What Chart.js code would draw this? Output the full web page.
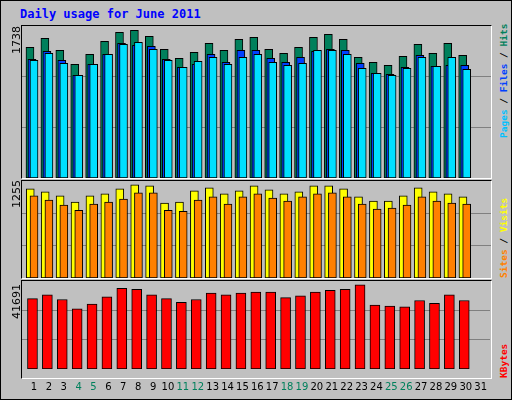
<!DOCTYPE html>
<html><head><meta charset="utf-8">
<script src="https://cdn.jsdelivr.net/npm/chart.js@4/dist/chart.umd.min.js"></script>
<style>
body{margin:0;background:#fff}
#wrap{position:relative;width:510px;height:398px;border:1px solid #000;background:#c0c0c0;overflow:hidden}
.pan{position:absolute;box-sizing:border-box;border-top:1px solid #000;border-left:1px solid #000;border-right:1px solid #fff;border-bottom:1px solid #fff}
.cv{position:absolute}
.t{position:absolute;font-family:"DejaVu Sans Mono",monospace;font-size:12px;white-space:nowrap}
.rot{transform-origin:0 0;transform:rotate(-90deg)}
.sm{font-size:9.5px;font-weight:bold}
.num{font-family:"DejaVu Sans";font-size:11px}
</style></head><body>
<div id="wrap">
<div class="t" style="left:19px;top:6px;color:#0000ff;font-weight:bold">Daily usage for June 2011</div>
<div class="pan" style="left:20px;top:24px;width:471px;height:154px"></div>
<div class="pan" style="left:20px;top:179px;width:471px;height:99px"></div>
<div class="pan" style="left:20px;top:279px;width:471px;height:99px"></div>
<canvas id="c1" class="cv" style="left:21px;top:25px" width="469" height="152"></canvas>
<canvas id="c2" class="cv" style="left:21px;top:180px" width="469" height="97"></canvas>
<canvas id="c3" class="cv" style="left:21px;top:280px" width="469" height="116"></canvas>
<div class="t rot num" style="left:9px;top:53px;color:#000">1738</div>
<div class="t rot num" style="left:9px;top:207px;color:#000">1255</div>
<div class="t rot num" style="left:9px;top:318px;color:#000">41691</div>
<div class="t rot sm" style="left:497px;top:137px"><span style="color:#00c0ff">Pages</span><span style="color:#000"> / </span><span style="color:#0040ff">Files</span><span style="color:#000"> / </span><span style="color:#00805c">Hits</span></div>
<div class="t rot sm" style="left:497px;top:277px"><span style="color:#ff8000">Sites</span><span style="color:#000"> / </span><span style="color:#ffff00">Visits</span></div>
<div class="t rot sm" style="left:497px;top:377px;color:#ff0000">KBytes</div>
</div>
<script>
let days=[];for(let d=1;d<=31;d++)days.push(d)
let weekends=[4,5,11,12,18,19,25,26]

let hits=[1524,1629,1489,1326,1442,1594,1699,1722,1652,1501,1396,1466,1571,1489,1617,1641,1501,1454,1524,1641,1676,1617,1407,1349,1314,1419,1559,1454,1571,1431]
let files=[1384,1477,1372,1197,1326,1442,1571,1547,1536,1384,1291,1326,1442,1349,1489,1489,1396,1349,1407,1477,1501,1489,1337,1221,1209,1291,1431,1302,1314,1314]
let pages=[1372,1454,1337,1197,1326,1442,1559,1582,1501,1372,1291,1361,1407,1326,1407,1442,1349,1314,1337,1489,1489,1442,1279,1221,1197,1279,1407,1302,1407,1267]
let visits=[1154,1114,1062,983,1062,1088,1154,1206,1193,970,983,1127,1167,1088,1127,1193,1141,1088,1114,1193,1193,1154,1049,996,996,1062,1167,1114,1088,1049]
let sites=[1062,1009,943,877,956,983,1022,1101,1101,877,864,1009,1049,956,1049,1088,1035,996,1049,1088,1101,1049,956,891,904,943,1049,996,970,956]
let kbytes=[34816,36648,34358,29777,32067,35732,39855,39397,36648,34816,32983,34358,37564,36648,37564,38022,38022,35274,36190,38022,38939,39397,41687,31609,31151,30693,33899,32525,36648,33899]

function ds(vals,off,color,w,order){
return {data:vals.map((v,i)=>({x:days[i]+off,y:v})),backgroundColor:color,borderColor:'#000',borderWidth:1,borderSkipped:false,barThickness:w,grouped:false,order:order}
}

function make(id,sets,max,showX){
new Chart(document.getElementById(id),{
type:'bar',
data:{datasets:sets},
options:{
responsive:false,animation:false,devicePixelRatio:1,
layout:{padding:0},
plugins:{legend:{display:false},tooltip:{enabled:false}},
scales:{
x:{type:'linear',min:0.196,max:31.63,offset:false,
grid:{display:false},border:{display:false},
ticks:{display:showX,color:c=>weekends.includes(c.tick.value)?'#00805c':'#000',font:{family:'DejaVu Sans',size:10},padding:4,maxRotation:0,autoSkip:false},
afterBuildTicks:a=>{a.ticks=days.map(d=>({value:d}))},
afterFit:a=>{if(!showX)a.height=0}},
y:{min:0,max:max,grid:{color:'#808080',drawTicks:false},border:{display:false},ticks:{display:false},
afterBuildTicks:a=>{a.ticks=[{value:max/3},{value:max*2/3}]},
afterFit:a=>{a.width=0}}
}
}
})
}

make('c1',[ds(hits,-0.27,'#00805c',8,3),ds(files,-0.134,'#0040ff',8,2),ds(pages,0,'#00e0ff',8,1)],1773,false)
make('c2',[ds(visits,-0.25,'#ffff00',8,2),ds(sites,0,'#ff8000',8,1)],1255,false)
make('c3',[ds(kbytes,-0.1,'#ff0000',10,1)],43525,true)
</script>
</body></html>
